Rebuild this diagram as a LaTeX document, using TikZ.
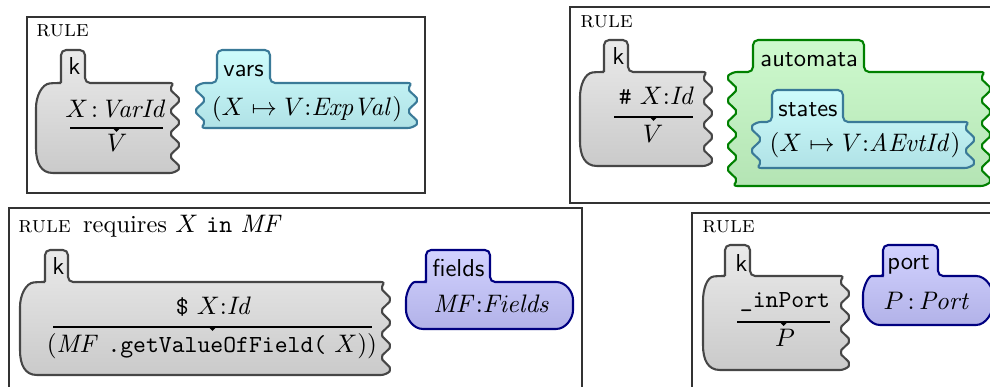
\documentclass[tikz,border=0pt]{standalone}
\usepackage{amsmath,amssymb}
\usepackage{tikz}
\usetikzlibrary{calc, positioning}
\definecolor{kedge}{RGB}{70,70,70}
\definecolor{ktop}{RGB}{234,234,234}
\definecolor{kbot}{RGB}{202,202,202}
\definecolor{varedge}{RGB}{58,122,152}
\definecolor{vartop}{RGB}{206,252,252}
\definecolor{varbot}{RGB}{176,226,230}
\definecolor{autoedge}{RGB}{0,128,0}
\definecolor{autotop}{RGB}{206,250,206}
\definecolor{autobot}{RGB}{180,228,180}
\definecolor{fldedge}{RGB}{0,0,128}
\definecolor{fldtop}{RGB}{210,210,255}
\definecolor{fldbot}{RGB}{178,178,232}

\begin{document}
\begin{tikzpicture}[x=0.0152cm, y=-0.0152cm, font=\fontsize{10.6}{12.7}\selectfont,
  rulebox/.style={draw=black!80, line width=.5pt},
  cell/.style={line width=.9pt, rounded corners=2.2pt},
  kcell/.style={cell, draw=kedge, top color=ktop, bottom color=kbot},
  varcell/.style={cell, draw=varedge, top color=vartop, bottom color=varbot},
  autocell/.style={cell, draw=autoedge, top color=autotop, bottom color=autobot},
  fldcell/.style={cell, draw=fldedge, top color=fldtop, bottom color=fldbot},
  lbl/.style={anchor=base west, inner sep=0pt, font=\fontsize{10.6}{12.7}\selectfont\sffamily},
  term/.style={anchor=base, inner sep=0pt},
  head/.style={anchor=base west, inner sep=0pt},
  rwline/.style={line width=.5pt}]
\useasboundingbox (0,0) rectangle (990,387);
\clip (0,0) rectangle (990,387);

% rule 1
\draw[rulebox] (27,17) rectangle (425,193);
\node[head, font=\normalsize] (h1) at (36,37) {\textsc{rule}};
\draw[kcell] (120,173) -- (175,173)
  \foreach \i in {1,...,4} { .. controls +(4,-3.8) and +(4,3.8) .. ++(0,-11.25)
                             .. controls +(-4,-3.8) and +(-4,3.8) .. ++(0,-11.25) }
  -- (85,83) -- (85,50) -- (61,50) -- (61,77)
  .. controls +(0,5) and +(4,0) .. (55,83) .. controls +(-13,1) and +(0,-17) .. (36,113)
  -- (36,143) .. controls +(0,20) and +(-17,0) .. (58,173) -- cycle;
\node[lbl] (k1) at (68,75) {k};
\node[term] (t1) at (116,118) {$X\mkern2mu{:}\mkern2mu\mathit{VarId}$};
\coordinate (l1a) at (70,128);
\coordinate (l1b) at (163,128);
\draw[rwline] (l1a) -- (l1b);
\fill ($(l1a)!.5!(l1b)$) +(-4,0) -- +(4,0) -- +(0,4) -- cycle;
\node[term] (b1) at (117,152) {$V$};
\draw[varcell] (300,128) -- (413,128)
  \foreach \i in {1,2} { .. controls +(4,-3.8) and +(4,3.8) .. ++(0,-11.25)
                         .. controls +(-4,-3.8) and +(-4,3.8) .. ++(0,-11.25) }
  -- (270,83) -- (270,50) -- (217,50) -- (217,83) -- (200,83)
  \foreach \i in {1,2} { .. controls +(-4,3.8) and +(-4,-3.8) .. ++(0,11.25)
                         .. controls +(4,3.8) and +(4,-3.8) .. ++(0,11.25) }
  -- cycle;
\node[lbl] (v1) at (223,77) {vars};
\node[term] (m1) at (307,116) {$(X \mapsto V{:}\mathit{ExpVal})$};

% rule 2
\draw[rulebox] (570,7) rectangle (1000,203);
\node[head, font=\normalsize] (h2) at (580,28) {\textsc{rule}};
\draw[kcell] (650,166) -- (708,166)
  \foreach \i in {1,...,4} { .. controls +(4,-3.9) and +(4,3.9) .. ++(0,-11.75)
                             .. controls +(-4,-3.9) and +(-4,3.9) .. ++(0,-11.75) }
  -- (628,72) -- (628,40) -- (604,40) -- (604,66)
  .. controls +(0,5) and +(4,0) .. (598,72) .. controls +(-13,1) and +(0,-17) .. (580,102)
  -- (580,136) .. controls +(0,20) and +(-17,0) .. (602,166) -- cycle;
\node[lbl] (k2) at (612,65) {k};
\node[term] (t2) at (657,105) {\texttt{\#} $X{:}\mathit{Id}$};
\coordinate (l2a) at (614,117);
\coordinate (l2b) at (693,117);
\draw[rwline] (l2a) -- (l2b);
\fill ($(l2a)!.5!(l2b)$) +(-4,0) -- +(4,0) -- +(0,4) -- cycle;
\node[term] (b2) at (653,143) {$V$};
\draw[autocell] (850,186) -- (986,186)
  \foreach \i in {1,...,5} { .. controls +(4,-3.8) and +(4,3.8) .. ++(0,-11.4)
                             .. controls +(-4,-3.8) and +(-4,3.8) .. ++(0,-11.4) }
  -- (864,72) -- (864,40) -- (753,40) -- (753,72) -- (732,72)
  \foreach \i in {1,...,5} { .. controls +(-4,3.8) and +(-4,-3.8) .. ++(0,11.4)
                             .. controls +(4,3.8) and +(4,-3.8) .. ++(0,11.4) }
  -- cycle;
\node[lbl] (a2) at (760,67) {automata};
\draw[varcell] (860,168) -- (970,168)
  \foreach \i in {1,2} { .. controls +(4,-3.8) and +(4,3.8) .. ++(0,-11.5)
                         .. controls +(-4,-3.8) and +(-4,3.8) .. ++(0,-11.5) }
  -- (843,122) -- (843,90) -- (772,90) -- (772,122) -- (756,122)
  \foreach \i in {1,2} { .. controls +(-4,3.8) and +(-4,-3.8) .. ++(0,11.5)
                         .. controls +(4,3.8) and +(4,-3.8) .. ++(0,11.5) }
  -- cycle;
\node[lbl] (s2) at (778,117) {states};
\node[term] (m2) at (865,152) {$(X \mapsto V{:}\mathit{AEvtId})$};

% rule 3
\draw[rulebox] (9,208) rectangle (582,400);
\node[head] (h3) at (18,233) {{\normalsize\textsc{rule}}\enspace requires $X$ \texttt{in} $\mathit{MF}$};
\draw[kcell] (200,375) -- (386,375)
  \foreach \i in {1,...,4} { .. controls +(4,-3.9) and +(4,3.9) .. ++(0,-11.625)
                             .. controls +(-4,-3.9) and +(-4,3.9) .. ++(0,-11.625) }
  -- (68,282) -- (68,250) -- (45,250) -- (45,276)
  .. controls +(0,5) and +(4,0) .. (39,282) .. controls +(-13,1) and +(0,-17) .. (20,312)
  -- (20,345) .. controls +(0,20) and +(-17,0) .. (42,375) -- cycle;
\node[lbl] (k3) at (52,275) {k};
\node[term] (t3) at (214,315) {\texttt{\$} $X{:}\mathit{Id}$};
\coordinate (l3a) at (53,327);
\coordinate (l3b) at (372,327);
\draw[rwline] (l3a) -- (l3b);
\fill ($(l3a)!.5!(l3b)$) +(-4,0) -- +(4,0) -- +(0,4) -- cycle;
\node[term] (b3) at (212,353) {$(\mathit{MF}$ \texttt{.getValueOfField(} $X))$};
\draw[fldcell] (490,329) -- (551,329) .. controls +(15,0) and +(0,13) .. (573,305)
  .. controls +(0,-13) and +(15,0) .. (551,282) -- (490,282) -- (490,250) -- (426,250) -- (426,276)
  .. controls +(0,5) and +(3,0) .. (420,282) .. controls +(-9,0) and +(0,-12) .. (406,305)
  .. controls +(0,13) and +(-15,0) .. (428,329) -- cycle;
\node[lbl] (f3) at (432,277) {fields};
\node[term] (m3) at (492,313) {$\mathit{MF}{:}\mathit{Fields}$};

% rule 4
\draw[rulebox] (692,213) rectangle (1000,400);
\node[head, font=\normalsize] (h4) at (702,233) {\textsc{rule}};
\draw[kcell] (780,370) -- (845,370)
  \foreach \i in {1,...,4} { .. controls +(4,-3.9) and +(4,3.9) .. ++(0,-11.75)
                             .. controls +(-4,-3.9) and +(-4,3.9) .. ++(0,-11.75) }
  -- (750,276) -- (750,245) -- (725,245) -- (725,270)
  .. controls +(0,5) and +(4,0) .. (719,276) .. controls +(-12,1) and +(0,-17) .. (703,306)
  -- (703,340) .. controls +(0,20) and +(-17,0) .. (725,370) -- cycle;
\node[lbl] (k4) at (735,272) {k};
\node[term] (t4) at (785,308) {\texttt{\_inPort}};
\coordinate (l4a) at (737,322);
\coordinate (l4b) at (830,322);
\draw[rwline] (l4a) -- (l4b);
\fill ($(l4a)!.5!(l4b)$) +(-4,0) -- +(4,0) -- +(0,4) -- cycle;
\node[term] (b4) at (785,347) {$P$};
\draw[fldcell] (938,325) -- (971,325) .. controls +(15,0) and +(0,12) .. (993,300)
  .. controls +(0,-12) and +(15,0) .. (971,276) -- (938,276) -- (938,245) -- (883,245) -- (883,270)
  .. controls +(0,5) and +(3,0) .. (877,276) .. controls +(-9,0) and +(0,-12) .. (863,300)
  .. controls +(0,13) and +(-15,0) .. (885,325) -- cycle;
\node[lbl] (p4) at (887,270) {port};
\node[term] (m4) at (927,310) {$P\,{:}\,\mathit{Port}$};
\end{tikzpicture}
\end{document}
